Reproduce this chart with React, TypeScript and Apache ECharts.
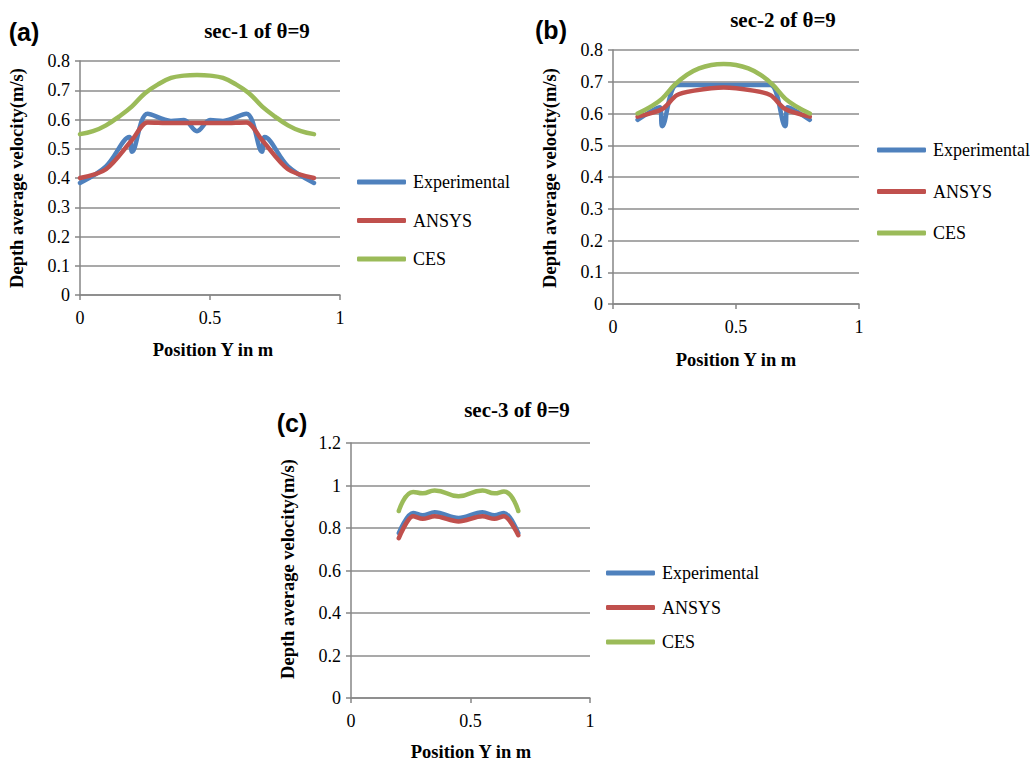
import React, { useEffect, useRef } from "react";
import * as echarts from "echarts";

// ---- data ----
const seriesNames = ["Experimental", "ANSYS", "CES"];
const colors = ["#4F81BD", "#C0504D", "#9BBB59"];

// sec-1
const a_expX = [0, 0.1, 0.19, 0.2, 0.26, 0.35, 0.4, 0.45, 0.5, 0.55, 0.64, 0.7, 0.71, 0.8, 0.9];
const a_expY = [0.383, 0.44, 0.54, 0.49, 0.62, 0.595, 0.598, 0.56, 0.598, 0.595, 0.62, 0.49, 0.54, 0.44, 0.383];
const a_ansX = [0, 0.1, 0.2, 0.26, 0.35, 0.45, 0.55, 0.64, 0.7, 0.8, 0.9];
const a_ansY = [0.4, 0.43, 0.53, 0.59, 0.588, 0.588, 0.588, 0.59, 0.53, 0.43, 0.4];
const a_cesX = [0, 0.05, 0.1, 0.15, 0.2, 0.25, 0.3, 0.35, 0.4, 0.45, 0.5, 0.55, 0.6, 0.65, 0.7, 0.75, 0.8, 0.85, 0.9];
const a_cesY = [0.55, 0.56, 0.58, 0.61, 0.645, 0.69, 0.72, 0.742, 0.75, 0.752, 0.75, 0.742, 0.72, 0.69, 0.645, 0.61, 0.58, 0.56, 0.55];

// sec-2
const b_expX = [0.1, 0.19, 0.2, 0.26, 0.35, 0.45, 0.55, 0.64, 0.7, 0.71, 0.8];
const b_expY = [0.58, 0.62, 0.56, 0.69, 0.69, 0.69, 0.69, 0.69, 0.56, 0.62, 0.58];
const b_ansX = [0.1, 0.2, 0.26, 0.33, 0.45, 0.57, 0.64, 0.7, 0.8];
const b_ansY = [0.59, 0.614, 0.658, 0.672, 0.682, 0.672, 0.658, 0.614, 0.59];
const b_cesX = [0.1, 0.15, 0.2, 0.25, 0.3, 0.35, 0.4, 0.45, 0.5, 0.55, 0.6, 0.65, 0.7, 0.75, 0.8];
const b_cesY = [0.6, 0.62, 0.647, 0.69, 0.722, 0.742, 0.753, 0.756, 0.753, 0.742, 0.722, 0.69, 0.647, 0.62, 0.6];

// sec-3
const c_X = [0.2, 0.26, 0.3, 0.35, 0.45, 0.55, 0.6, 0.64, 0.7];
const c_expY = [0.776, 0.871, 0.86, 0.874, 0.847, 0.874, 0.86, 0.871, 0.776];
const c_ansY = [0.752, 0.855, 0.843, 0.855, 0.831, 0.855, 0.843, 0.855, 0.766];
const c_cesY = [0.88, 0.97, 0.963, 0.977, 0.95, 0.977, 0.963, 0.972, 0.88];

const xTicks = [0, 0.5, 1];
const titles = ["sec-1 of \u03b8=9", "sec-2 of \u03b8=9", "sec-3 of \u03b8=9"];
const panelLabels = ["(a)", "(b)", "(c)"];
const yName = "Depth average velocity(m/s)";
const xName = "Position Y in m";

const zip = (xs: number[], ys: number[]) => xs.map((x, i) => [x, ys[i]]);

const SERIF = "Liberation Serif";

export default function App() {
  const ref = useRef<HTMLDivElement>(null);
  useEffect(() => {
    const chart = echarts.init(ref.current!, null, { renderer: "svg" });

    const grids = [
      { left: 80, top: 61, width: 260, height: 234 },
      { left: 613, top: 50, width: 246, height: 254 },
      { left: 351, top: 443, width: 239, height: 255 },
    ];
    const yCfg = [
      { max: 0.8, interval: 0.1 },
      { max: 0.8, interval: 0.1 },
      { max: 1.2, interval: 0.2 },
    ];
    const panelData = [
      [zip(a_expX, a_expY), zip(a_ansX, a_ansY), zip(a_cesX, a_cesY)],
      [zip(b_expX, b_expY), zip(b_ansX, b_ansY), zip(b_cesX, b_cesY)],
      [zip(c_X, c_expY), zip(c_X, c_ansY), zip(c_X, c_cesY)],
    ];
    const smoothBy = [
      [0.35, 0.3, 0.4],
      [0.35, 0.3, 0.4],
      [0.35, 0.3, 0.5],
    ];

    const axisLineStyle = { color: "#868686", width: 1.5 };

    const xAxis = grids.map((_, i) => ({
      type: "value",
      gridIndex: i,
      min: 0,
      max: 1,
      interval: 0.5,
      axisLine: { show: true, lineStyle: axisLineStyle },
      axisTick: { show: true, length: 5, lineStyle: axisLineStyle },
      splitLine: { show: false },
      axisLabel: {
        fontFamily: SERIF,
        fontSize: 18,
        color: "#000",
        margin: 14,
        formatter: (v: number) => (xTicks.includes(v) ? String(v) : ""),
      },
    }));

    const yAxis = grids.map((_, i) => ({
      type: "value",
      gridIndex: i,
      min: 0,
      max: yCfg[i].max,
      interval: yCfg[i].interval,
      axisLine: { show: true, lineStyle: axisLineStyle },
      axisTick: { show: true, length: 5, lineStyle: axisLineStyle },
      splitLine: { show: true, lineStyle: { color: "#8c8c8c", width: 1.5 } },
      axisLabel: {
        fontFamily: SERIF,
        fontSize: 18,
        color: "#000",
        margin: 10,
        formatter: (v: number) => String(Math.round(v * 10) / 10),
      },
    }));

    const series: any[] = [];
    panelData.forEach((pd, gi) => {
      pd.forEach((d, si) => {
        series.push({
          type: "line",
          name: seriesNames[si],
          xAxisIndex: gi,
          yAxisIndex: gi,
          data: d,
          smooth: smoothBy[gi][si],
          showSymbol: false,
          symbol: "none",
          lineStyle: { color: colors[si], width: 4.5, cap: "round", join: "round" },
          itemStyle: { color: colors[si] },
          z: si === 0 ? 2 : si === 1 ? 3 : 4,
        });
      });
    });

    const legendPos = [
      { left: 352, top: 167, itemGap: 18.5 },
      { left: 872, top: 135, itemGap: 21.5 },
      { left: 601, top: 558, itemGap: 14.5 },
    ];
    const legend = legendPos.map((p) => ({
      orient: "vertical",
      left: p.left,
      top: p.top,
      itemGap: p.itemGap,
      itemWidth: 49,
      itemHeight: 5,
      icon: "roundRect",
      selectedMode: false,
      data: seriesNames.map((n, i) => ({ name: n, itemStyle: { color: colors[i] } })),
      textStyle: {
        fontFamily: SERIF,
        fontSize: 18,
        color: "#000",
        lineHeight: 20,
        padding: [0, 0, 0, 2],
      },
    }));

    const titlePos = [
      { x: 257, y: 31 },
      { x: 783, y: 20 },
      { x: 517, y: 410 },
    ];
    const labelPos = [
      { x: 24, y: 32 },
      { x: 551, y: 30 },
      { x: 292, y: 423 },
    ];
    const yNamePos = [
      { x: 17, y: 178 },
      { x: 550, y: 178 },
      { x: 288, y: 569 },
    ];
    const xNamePos = [
      { x: 213, y: 350 },
      { x: 736, y: 360 },
      { x: 471, y: 752 },
    ];

    const graphic: any[] = [];
    for (let i = 0; i < 3; i++) {
      graphic.push({
        type: "text",
        x: titlePos[i].x,
        y: titlePos[i].y,
        style: {
          text: titles[i],
          fontFamily: SERIF,
          fontWeight: "bold",
          fontSize: 21,
          fill: "#000",
          textAlign: "center",
          textVerticalAlign: "middle",
        },
      });
      graphic.push({
        type: "text",
        x: labelPos[i].x,
        y: labelPos[i].y,
        style: {
          text: panelLabels[i],
          fontFamily: "Liberation Sans",
          fontWeight: "bold",
          fontSize: 25,
          fill: "#000",
          textAlign: "center",
          textVerticalAlign: "middle",
        },
      });
      graphic.push({
        type: "text",
        x: yNamePos[i].x,
        y: yNamePos[i].y,
        rotation: Math.PI / 2,
        style: {
          text: yName,
          fontFamily: SERIF,
          fontWeight: "bold",
          fontSize: 18.5,
          fill: "#000",
          textAlign: "center",
          textVerticalAlign: "middle",
        },
      });
      graphic.push({
        type: "text",
        x: xNamePos[i].x,
        y: xNamePos[i].y,
        style: {
          text: xName,
          fontFamily: SERIF,
          fontWeight: "bold",
          fontSize: 18.5,
          fill: "#000",
          textAlign: "center",
          textVerticalAlign: "middle",
        },
      });
    }

    chart.setOption({
      animation: false,
      backgroundColor: "#fff",
      grid: grids.map((g) => ({ ...g, containLabel: false })),
      xAxis,
      yAxis,
      legend,
      series,
      graphic,
    });

    return () => chart.dispose();
  }, []);

  return (
    <div
      ref={ref}
      style={{ position: "absolute", left: 0, top: 0, width: 1030, height: 765, background: "#fff" }}
    />
  );
}
